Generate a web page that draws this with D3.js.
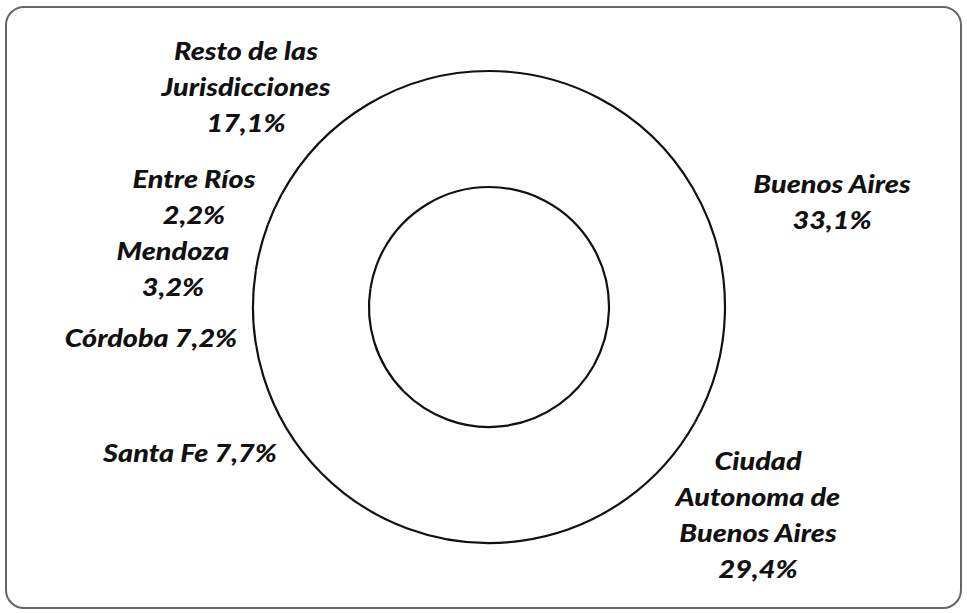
<!DOCTYPE html>
<html>
<head>
<meta charset="utf-8">
<script src="https://cdn.jsdelivr.net/npm/d3@7"></script>
<style>
  html, body { margin: 0; padding: 0; background: #fff; }
  svg text { font-family: Lato, "Open Sans", sans-serif; font-weight: 900; font-style: italic; fill: #111; }
</style>
</head>
<body>
<svg id="chart" width="967" height="613"></svg>
<script>
// ---- data ----
const categories = ["Buenos Aires", "Ciudad Autonoma de Buenos Aires", "Santa Fe", "Córdoba", "Mendoza", "Entre Ríos", "Resto de las Jurisdicciones"];
const values = [33.1, 29.4, 7.7, 7.2, 3.2, 2.2, 17.1];
const valueLabels = ["33,1%", "29,4%", "7,7%", "7,2%", "3,2%", "2,2%", "17,1%"];
// label text lines (as printed)
const labelLines = [
  ["Buenos Aires", "33,1%"],
  ["Ciudad", "Autonoma de", "Buenos Aires", "29,4%"],
  ["Santa Fe 7,7%"],
  ["Córdoba 7,2%"],
  ["Mendoza", "3,2%"],
  ["Entre Ríos", "2,2%"],
  ["Resto de las", "Jurisdicciones", "17,1%"]
];

// ---- layout ----
const cx = 489, cy = 307;
const outerR = 236, innerR = 120;
const lineH = 36;
const fontSize = 24;
const stretchX = 1.2;
// label centre x and first baseline y, in px
const labelPos = [
  [832, 193], [758, 470], [190, 462], [151, 347], [173, 260], [194, 188], [246, 60]
];

const svg = d3.select("#chart");

// frame
svg.append("rect")
  .attr("x", 6).attr("y", 7).attr("width", 955).attr("height", 601)
  .attr("rx", 18).attr("ry", 18)
  .attr("fill", "#fff").attr("stroke", "#666").attr("stroke-width", 2);

const g = svg.append("g").attr("transform", `translate(${cx},${cy})`);

const pie = d3.pie().sort(null).value(d => d)(values);
const arc = d3.arc().innerRadius(innerR).outerRadius(outerR);

g.selectAll("path.slice").data(pie).join("path")
  .attr("class", "slice")
  .attr("d", arc)
  .attr("fill", "#fff")
  .attr("stroke", "none");

// outer and inner rings (slice edges without separators)
const ringArc = r => d3.arc().innerRadius(r).outerRadius(r);
[outerR, innerR].forEach(r => {
  g.selectAll(null).data(pie).join("path")
    .attr("d", ringArc(r))
    .attr("fill", "none")
    .attr("stroke", "#111")
    .attr("stroke-width", 2.2);
});

// labels
const lbl = svg.append("g");
labelLines.forEach((lines, i) => {
  const lg = lbl.append("g")
    .attr("transform", `translate(${labelPos[i][0]},${labelPos[i][1]}) scale(${stretchX},1)`);
  lines.forEach((ln, j) => {
    lg.append("text")
      .attr("text-anchor", "middle")
      .attr("font-size", fontSize)
      .attr("x", 0)
      .attr("y", j * lineH)
      .text(ln);
  });
});
</script>
</body>
</html>
